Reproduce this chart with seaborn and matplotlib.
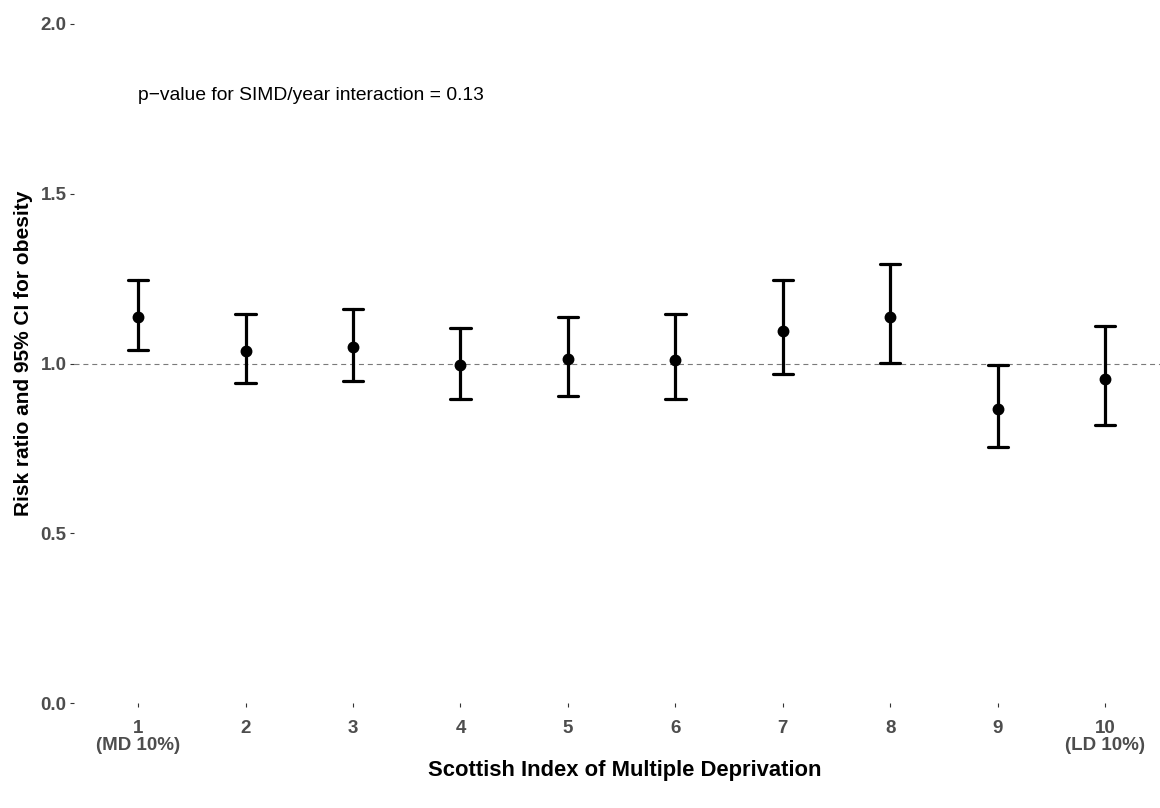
"""
Risk ratio of obesity by SIMD decile, point estimates with 95% CI
"""
import pandas as pd
import numpy as np
import matplotlib
matplotlib.use("Agg")
import matplotlib.pyplot as plt
import seaborn as sns

# values
simd = ["1", "2", "3", "4", "5", "6", "7", "8", "9", "10"]
tick_labels = ["1\n(MD 10%)", "2", "3", "4", "5", "6", "7", "8", "9", "10\n(LD 10%)"]
rr = [1.138, 1.038, 1.050, 0.995, 1.014, 1.011, 1.097, 1.138, 0.865, 0.953]
ci_low = [1.040, 0.943, 0.949, 0.894, 0.904, 0.894, 0.970, 1.001, 0.754, 0.818]
ci_high = [1.246, 1.145, 1.161, 1.106, 1.137, 1.145, 1.245, 1.294, 0.996, 1.111]
y_ticks = [0.0, 0.5, 1.0, 1.5, 2.0]
p_text = "p\u2212value for SIMD/year interaction = 0.13"

# long table: lower / estimate / upper per decile, so the median is the estimate
df = pd.DataFrame({
    "simd": simd * 3,
    "value": ci_low + rr + ci_high,
})

sns.set_style("white")
plt.rcParams["font.family"] = ["Liberation Sans", "DejaVu Sans"]

fig = plt.figure(figsize=(11.6, 8.08), dpi=100)
W, H = 1160, 808
left, right, top, bottom = 73.6, 1160, 24, 703
ax = fig.add_axes([left / W, 1 - bottom / H, (right - left) / W, (bottom - top) / H])

sns.pointplot(
    data=df, x="simd", y="value", order=simd,
    estimator="median", errorbar=lambda v: (v.min(), v.max()),
    color="black", linestyle="none", capsize=0.19,
    markersize=6.5, err_kws={"linewidth": 2.3}, ax=ax,
)

ax.axhline(1.0, color="#7a7a7a", linewidth=0.8, linestyle=(0, (4.5, 3.5)), zorder=0)

ax.text(0, 1.79, p_text, ha="left", va="center", fontsize=13.9, color="black")

ax.set_xlim(-0.6, 9.51)
ax.set_ylim(0, 2)
ax.set_yticks(y_ticks)
ax.set_yticklabels([f"{t:.1f}" for t in y_ticks])
ax.set_xticks(range(len(simd)))
ax.set_xticklabels(tick_labels, linespacing=1.0)

for s in ax.spines.values():
    s.set_visible(False)
ax.tick_params(axis="both", bottom=True, left=True, length=3, width=0.8,
               color="#333333", labelcolor="#4d4d4d", labelsize=13.5)
ax.tick_params(axis="x", pad=9.5)
ax.tick_params(axis="y", pad=2)
for lab in ax.get_xticklabels() + ax.get_yticklabels():
    lab.set_fontweight("bold")

ax.set_xlabel("Scottish Index of Multiple Deprivation", fontsize=15.8,
              fontweight="bold", color="black")
ax.set_ylabel("Risk ratio and 95% CI for obesity", fontsize=15,
              fontweight="bold", color="black")
ax.xaxis.set_label_coords(0.5075, -0.1)
ax.xaxis.label.set_va("center")
ax.yaxis.set_label_coords(-0.0465, 0.515)
ax.yaxis.label.set_va("center")

fig.savefig("out.png", dpi=100)
